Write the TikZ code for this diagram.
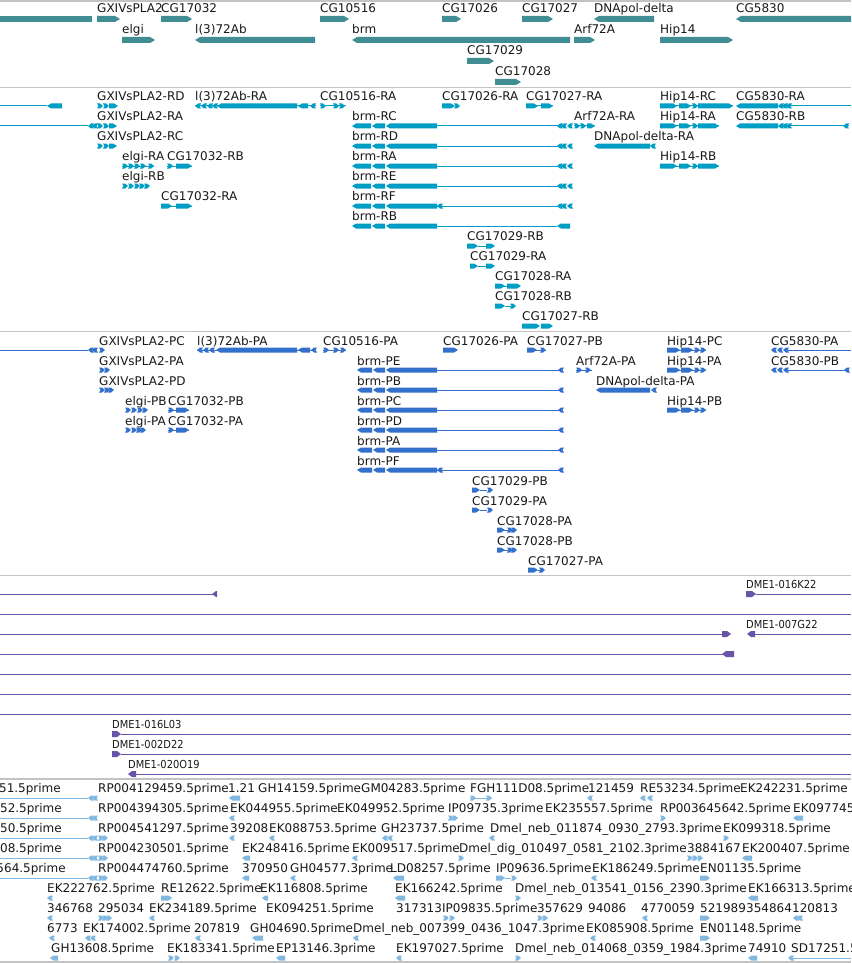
\documentclass[tikz,border=0pt]{standalone}
\usepackage{fontspec}
\setmainfont{DejaVu Sans}
\newfontfamily\condf[FakeStretch=0.9]{DejaVu Sans}
\definecolor{sepgray}{RGB}{195,195,195}
\definecolor{tealg}{RGB}{64,142,148}
\definecolor{cyant}{RGB}{0,158,196}
\definecolor{bluep}{RGB}{51,112,204}
\definecolor{purp}{RGB}{104,84,168}
\definecolor{lblue}{RGB}{128,184,226}
\colorlet{gc}{tealg}
\def\ghh{3}
\def\tipl{5}
\newcount\labn
\tikzset{
  lbl/.style={anchor=base west,inner sep=0pt,font=\fontsize{12}{14}\selectfont,text=black!90},
  dlbl/.style={anchor=base west,inner sep=0pt,font=\condf\fontsize{11}{13}\selectfont,text=black!90},
  sep/.style={draw=sepgray,line width=1.5pt}
}
\newcommand\lab[3]{\global\advance\labn by 1\relax\node[lbl] (n\the\labn) at (#1,#2) {#3};}
\newcommand\elab[3]{\global\advance\labn by 1\relax\node[lbl,anchor=base east] (n\the\labn) at (#1,#2) {#3};}
\newcommand\dlab[3]{\global\advance\labn by 1\relax\node[dlbl] (n\the\labn) at (#1,#2) {#3};}
\newcommand\bR[3]{\fill[gc] (#1,#3-\ghh) -- (#2-\tipl,#3-\ghh) -- (#2,#3) -- (#2-\tipl,#3+\ghh) -- (#1,#3+\ghh) -- cycle;}
\newcommand\bL[3]{\fill[gc] (#2,#3-\ghh) -- (#1+\tipl,#3-\ghh) -- (#1,#3) -- (#1+\tipl,#3+\ghh) -- (#2,#3+\ghh) -- cycle;}
\newcommand\bB[3]{\fill[gc] (#1,#3-\ghh) rectangle (#2,#3+\ghh);}
\newcommand\intr[3]{\draw[gc,line width=1pt] (#1,#3) -- (#2,#3);}
\newcommand\cR[2]{\fill[gc] (#1,#2-\ghh) -- (#1+3,#2-\ghh) -- (#1+6,#2) -- (#1+3,#2+\ghh) -- (#1,#2+\ghh) -- (#1+1.5,#2) -- cycle;}
\newcommand\cL[2]{\fill[gc] (#1+6,#2-\ghh) -- (#1+3,#2-\ghh) -- (#1,#2) -- (#1+3,#2+\ghh) -- (#1+6,#2+\ghh) -- (#1+4.5,#2) -- cycle;}
\newcommand\brmR[1]{\bL{352}{371}{#1}\bL{372}{385}{#1}\bL{386}{437}{#1}\intr{437}{560}{#1}\cL{557}{#1}\cL{561}{#1}\cL{567}{#1}}
\newcommand\brmP[1]{\bL{357}{372}{#1}\bL{373}{385}{#1}\bL{386}{437}{#1}\intr{437}{562}{#1}\cL{558}{#1}}
\newcommand\hipR[1]{\intr{660}{719}{#1}\bR{660}{677}{#1}\bR{679}{691}{#1}\cR{692}{#1}\bR{698}{719}{#1}}
\newcommand\hipP[1]{\intr{667}{706}{#1}\bR{667}{680}{#1}\bR{681}{693}{#1}\cR{694}{#1}\cR{700}{#1}}
\begin{document}
\begin{tikzpicture}[x=1pt,y=-1pt]
\useasboundingbox (0,0) rectangle (851,963);
\fill[white] (0,0) rectangle (851,963);
\clip (0,0) rectangle (851,963);
% separators
\draw[sep] (0,1) -- (851,1);
\draw[sep] (0,87.5) -- (851,87.5);
\draw[sep] (0,331.5) -- (851,331.5);
\draw[sep] (0,575.5) -- (851,575.5);
\draw[sep] (0,779) -- (851,779);
\draw[sep] (0,962) -- (851,962);

% ---------------- Track 1: genes ----------------
\colorlet{gc}{tealg}\def\ghh{3}\def\tipl{5}
\bB{0}{92}{19}
\lab{97}{12.5}{GXIVsPLA2}\bR{97}{120}{19}
\lab{161}{12.5}{CG17032}\bR{161}{192}{19}
\lab{320}{12.5}{CG10516}\bR{320}{349}{19}
\lab{442}{12.5}{CG17026}\bR{442}{461}{19}
\lab{522}{12.5}{CG17027}\bR{522}{553}{19}
\lab{594}{12.5}{DNApol-delta}\bL{594}{654}{19}
\lab{736}{12.5}{CG5830}\bL{736}{851}{19}
\lab{122}{33.5}{elgi}\bR{122}{155}{40}
\lab{195}{33.5}{l(3)72Ab}\bL{195}{315}{40}
\lab{352}{33.5}{brm}\bL{352}{570}{40}
\lab{574}{33.5}{Arf72A}\bR{574}{595}{40}
\lab{660}{33.5}{Hip14}\bR{660}{733}{40}
\lab{467}{54.5}{CG17029}\bR{467}{494}{61}
\lab{495}{75.5}{CG17028}\bR{495}{521}{82}

% ---------------- Track 2: -R transcripts ----------------
\colorlet{gc}{cyant}\def\ghh{2.5}\def\tipl{4}
% row 0
\intr{0}{47}{106}\bL{47}{62}{106}
\lab{97}{100.5}{GXIVsPLA2-RD}\cR{97}{106}\cR{103}{106}\bR{109}{118}{106}
\lab{195}{100.5}{l(3)72Ab-RA}\intr{195}{316}{106}\cL{195}{106}\cL{201}{106}\cL{207}{106}\cL{212}{106}\bL{217}{297}{106}\bL{298}{308}{106}\cL{310}{106}
\lab{320}{100.5}{CG10516-RA}\intr{320}{346}{106}\cR{320}{106}\cR{333}{106}\cR{339}{106}
\lab{442}{100.5}{CG17026-RA}\bR{442}{455}{106}\cR{454}{106}
\lab{526}{100.5}{CG17027-RA}\intr{526}{553}{106}\bR{526}{538}{106}\bR{541}{553}{106}
\lab{660}{100.5}{Hip14-RC}\intr{660}{733}{106}\bR{660}{677}{106}\bR{679}{691}{106}\cR{692}{106}\bR{698}{733}{106}
\lab{736}{100.5}{CG5830-RA}\bL{736}{778}{106}\cL{778}{106}\cL{782}{106}\cL{786}{106}\intr{790}{851}{106}
% row 1
\intr{0}{88}{126}\cL{88}{126}\cL{92}{126}
\lab{97}{120.5}{GXIVsPLA2-RA}\cR{97}{126}\cR{103}{126}\bR{109}{117}{126}
\lab{352}{120.5}{brm-RC}\brmR{126}
\lab{574}{120.5}{Arf72A-RA}\intr{574}{595}{126}\cR{574}{126}\cR{580}{126}\bR{587}{595}{126}
\lab{660}{120.5}{Hip14-RA}\hipR{126}
\lab{736}{120.5}{CG5830-RB}\bL{736}{778}{126}\cL{778}{126}\cL{782}{126}\cL{786}{126}\intr{790}{849}{126}\cL{843}{126}
% row 2
\lab{97}{140.5}{GXIVsPLA2-RC}\cR{97}{146}\cR{103}{146}\bR{109}{117}{146}
\lab{352}{140.5}{brm-RD}\brmR{146}
\lab{594}{140.5}{DNApol-delta-RA}\bL{594}{650}{146}\cL{650}{146}
% row 3
\lab{122}{160.5}{elgi-RA}\intr{122}{154}{166}\cR{122}{166}\cR{128}{166}\cR{134}{166}\cR{140}{166}\cR{148}{166}
\lab{167}{160.5}{CG17032-RB}\intr{167}{192}{166}\cR{167}{166}\bR{176}{192}{166}
\lab{352}{160.5}{brm-RA}\brmR{166}
\lab{660}{160.5}{Hip14-RB}\hipR{166}
% row 4
\lab{122}{180.5}{elgi-RB}\cR{122}{186}\cR{128}{186}\cR{134}{186}\cR{139}{186}\cR{144}{186}
\lab{352}{180.5}{brm-RE}\brmR{186}
% row 5
\lab{161}{200.5}{CG17032-RA}\intr{161}{192}{206}\bR{161}{172}{206}\bR{176}{192}{206}
\lab{352}{200.5}{brm-RF}\brmR{206}\cL{437}{206}
% row 6
\lab{352}{220.5}{brm-RB}\bL{352}{371}{226}\bL{372}{385}{226}\bL{386}{437}{226}\intr{437}{557}{226}\bL{557}{570}{226}
% rows 7-11
\lab{467}{240.5}{CG17029-RB}\bR{467}{478}{246}\intr{478}{487}{246}\bR{486}{495}{246}
\lab{470}{260.5}{CG17029-RA}\bR{470}{478}{266}\intr{478}{487}{266}\bR{486}{495}{266}
\lab{495}{280.5}{CG17028-RA}\intr{495}{520}{286}\bR{495}{505}{286}\bR{507}{521}{286}
\lab{495}{300.5}{CG17028-RB}\bR{495}{505}{306}\intr{505}{511}{306}\cR{510}{306}
\lab{522}{320.5}{CG17027-RB}\bR{522}{540}{326}\bR{541}{553}{326}

% ---------------- Track 3: -P proteins ----------------
\colorlet{gc}{bluep}\def\ghh{2.5}\def\tipl{4}
% row 0
\intr{0}{88}{350}\cL{88}{350}\cL{92}{350}
\lab{99}{345}{GXIVsPLA2-PC}\cR{99}{350}
\lab{197}{345}{l(3)72Ab-PA}\intr{197}{316}{350}\cL{197}{350}\cL{203}{350}\cL{209}{350}\bL{216}{297}{350}\bL{298}{310}{350}\cL{311}{350}
\lab{323}{345}{CG10516-PA}\intr{323}{346}{350}\cR{323}{350}\cR{333}{350}\cR{340}{350}
\lab{443}{345}{CG17026-PA}\bR{443}{458}{350}
\lab{527}{345}{CG17027-PB}\intr{527}{546}{350}\bR{527}{537}{350}\cR{540}{350}
\lab{667}{345}{Hip14-PC}\hipP{350}
\lab{771}{345}{CG5830-PA}\cL{771}{350}\cL{777}{350}\cL{783}{350}\intr{788}{851}{350}
% row 1
\lab{99}{365}{GXIVsPLA2-PA}\cR{99}{370}\cR{104}{370}
\lab{357}{365}{brm-PE}\brmP{370}
\lab{576}{365}{Arf72A-PA}\intr{576}{592}{370}\cR{576}{370}\cR{585}{370}
\lab{667}{365}{Hip14-PA}\hipP{370}
\lab{771}{365}{CG5830-PB}\cL{771}{370}\cL{777}{370}\cL{783}{370}\intr{788}{849}{370}\cL{844}{370}
% row 2
\lab{99}{385}{GXIVsPLA2-PD}\cR{99}{390}\cR{104}{390}\cR{108}{390}
\lab{357}{385}{brm-PB}\brmP{390}
\lab{596}{385}{DNApol-delta-PA}\bL{596}{650}{390}\cL{651}{390}
% row 3
\lab{125}{405}{elgi-PB}\cR{125}{410}\cR{131}{410}\cR{137}{410}\cR{142}{410}
\lab{168}{405}{CG17032-PB}\intr{168}{189}{410}\cR{168}{410}\bR{176}{189}{410}
\lab{357}{405}{brm-PC}\brmP{410}
\lab{667}{405}{Hip14-PB}\hipP{410}
% row 4
\lab{125}{425}{elgi-PA}\cR{125}{430}\cR{131}{430}\cR{136}{430}\cR{140}{430}
\lab{168}{425}{CG17032-PA}\intr{168}{189}{430}\cR{168}{430}\bR{176}{189}{430}
\lab{357}{425}{brm-PD}\brmP{430}
% row 5,6
\lab{357}{445}{brm-PA}\brmP{450}
\lab{357}{465}{brm-PF}\brmP{470}\cL{437}{470}
% rows 7-11
\lab{472}{485}{CG17029-PB}\bR{472}{480}{490}\intr{480}{487}{490}\cR{487}{490}
\lab{472}{505}{CG17029-PA}\bR{472}{480}{510}\intr{480}{487}{510}\cR{487}{510}
\lab{497}{525}{CG17028-PA}\intr{497}{516}{530}\bR{497}{505}{530}\cR{507}{530}\cR{511}{530}
\lab{497}{545}{CG17028-PB}\intr{497}{516}{550}\bR{497}{505}{550}\cR{507}{550}\cR{511}{550}
\lab{528}{565}{CG17027-PA}\bR{528}{538}{570}\intr{538}{541}{570}\cR{539}{570}

% ---------------- Track 4: BAC clones ----------------
\colorlet{gc}{purp}\def\ghh{3}\def\tipl{4}
\intr{0}{214}{594}\bL{212}{217}{594}
\dlab{746}{588}{DME1-016K22}\bR{746}{756}{594}\intr{756}{851}{594}
\intr{0}{851}{614}
\intr{0}{726}{634}\bR{722}{731}{634}
\dlab{746}{628}{DME1-007G22}\bL{747}{755}{634}\intr{755}{851}{634}
\intr{0}{724}{654}\bL{722}{734}{654}
\intr{0}{851}{674}
\intr{0}{851}{694}
\intr{0}{851}{714}
\dlab{112}{728}{DME1-016L03}\bR{112}{121}{734}\intr{121}{851}{734}
\dlab{112}{748}{DME1-002D22}\bR{112}{121}{754}\intr{121}{851}{754}
\dlab{128}{768}{DME1-020O19}\bL{128}{136}{774}\intr{136}{851}{774}

% ---------------- Track 5: ESTs ----------------
\colorlet{gc}{lblue}\def\ghh{2.5}\def\tipl{3.5}
% row 0
\elab{61}{792}{51.5prime}\intr{0}{88}{798}\cL{88}{798}\cL{92}{798}
\lab{98}{792}{RP004129459.5prime}
\lab{228}{792}{1.21}\bL{229}{240}{798}
\lab{258}{792}{GH14159.5prime}
\lab{361}{792}{GM04283.5prime}
\lab{470}{792}{FGH111D08.5prime}\intr{470}{492}{798}\cR{470}{798}\cR{486}{798}
\lab{588}{792}{121459}\cL{587}{798}
\lab{640}{792}{RE53234.5prime}\cL{640}{798}\cL{647}{798}
\lab{740}{792}{EK242231.5prime}
% row 1
\elab{62}{812}{52.5prime}\intr{0}{88}{818}\cL{88}{818}\cL{92}{818}
\lab{98}{812}{RP004394305.5prime}
\lab{230}{812}{EK044955.5prime}\cL{229}{818}
\lab{337}{812}{EK049952.5prime}
\lab{448}{812}{IP09735.3prime}\cR{448}{818}\cR{452}{818}
\lab{545}{812}{EK235557.5prime}
\lab{660}{812}{RP003645642.5prime}\cR{660}{818}
\lab{793}{812}{EK097745.5prime}\bL{793}{803}{818}
% row 2
\elab{62}{832}{50.5prime}\intr{0}{88}{838}\cL{88}{838}\cL{92}{838}
\lab{98}{832}{RP004541297.5prime}\cR{98}{838}\cR{102}{838}
\lab{230}{832}{39208}\cL{229}{838}
\lab{269}{832}{EK088753.5prime}\cL{269}{838}
\lab{381}{832}{GH23737.5prime}\cL{382}{838}\cL{387}{838}
\lab{490}{832}{Dmel\_neb\_011874\_0930\_2793.3prime}\cL{489}{838}
\lab{723}{832}{EK099318.5prime}\cR{723}{838}
% row 3
\elab{62}{852}{308.5prime}\intr{0}{88}{858}\cL{88}{858}\cL{92}{858}
\lab{98}{852}{RP004230501.5prime}\cR{98}{858}\cR{102}{858}
\lab{242}{852}{EK248416.5prime}\bL{242}{250}{858}
\lab{352}{852}{EK009517.5prime}\cL{352}{858}
\lab{459}{852}{Dmel\_dig\_010497\_0581\_2102.3prime}\cR{458}{858}
\lab{687}{852}{3884167}\cR{687}{858}\cR{692}{858}\cR{697}{858}
\lab{742}{852}{EK200407.5prime}\bL{742}{752}{858}
% row 4
\elab{66}{872}{564.5prime}\intr{0}{88}{878}\cL{88}{878}\cL{92}{878}
\lab{98}{872}{RP004474760.5prime}\cR{98}{878}\cR{102}{878}
\lab{242}{872}{370950}\bL{242}{249}{878}
\lab{290}{872}{GH04577.3prime}\cL{290}{878}
\lab{390}{872}{LD08257.5prime}\bL{393}{404}{878}
\lab{496}{872}{IP09636.5prime}\bR{496}{505}{878}\intr{505}{511}{878}\cR{511}{878}
\lab{592}{872}{EK186249.5prime}\cL{591}{878}
\lab{700}{872}{EN01135.5prime}\bR{700}{710}{878}
% row 5
\lab{47}{892}{EK222762.5prime}\cL{47}{898}
\lab{161}{892}{RE12622.5prime}\bR{161}{172}{898}
\lab{260}{892}{EK116808.5prime}\bL{262}{268}{898}
\lab{395}{892}{EK166242.5prime}\bL{395}{405}{898}
\lab{515}{892}{Dmel\_neb\_013541\_0156\_2390.3prime}\cR{515}{898}
\lab{748}{892}{EK166313.5prime}\bL{748}{758}{898}
% row 6
\lab{47}{912}{346768}\cL{47}{918}
\lab{98}{912}{295034}\cR{98}{918}\cR{102}{918}\cR{106}{918}
\lab{149}{912}{EK234189.5prime}\cL{149}{918}
\lab{266}{912}{EK094251.5prime}
\lab{396}{912}{317313}
\lab{442}{912}{IP09835.5prime}\cR{443}{918}\cR{449}{918}
\lab{537}{912}{357629}\cR{537}{918}\cR{542}{918}
\lab{588}{912}{94086}
\lab{641}{912}{4770059}\cL{642}{918}
\lab{700}{912}{521989}\bR{700}{710}{918}
\lab{746}{912}{354864}
\lab{792}{912}{120813}\cL{793}{918}\cL{797}{918}
% row 7
\lab{47}{932}{6773}\cL{49}{938}
\lab{83}{932}{EK174002.5prime}\cL{85}{938}\cL{90}{938}
\lab{194}{932}{207819}\cL{195}{938}
\lab{250}{932}{GH04690.5prime}\bL{252}{263}{938}
\lab{353}{932}{Dmel\_neb\_007399\_0436\_1047.3prime}\cL{353}{938}
\lab{586}{932}{EK085908.5prime}\cL{590}{938}
\lab{700}{932}{EN01148.5prime}\bR{700}{710}{938}
% row 8
\lab{51}{952}{GH13608.5prime}\bL{50}{58}{958}
\lab{167}{952}{EK183341.5prime}\cR{168}{958}\cR{174}{958}
\lab{276}{952}{EP13146.3prime}\bL{276}{285}{958}
\lab{396}{952}{EK197027.5prime}\cL{396}{958}
\lab{515}{952}{Dmel\_neb\_014068\_0359\_1984.3prime}\cR{515}{958}
\lab{748}{952}{74910}\bL{748}{757}{958}
\lab{791}{952}{SD17251.5prime}\intr{792}{851}{958}\cL{788}{958}
\end{tikzpicture}
\end{document}
